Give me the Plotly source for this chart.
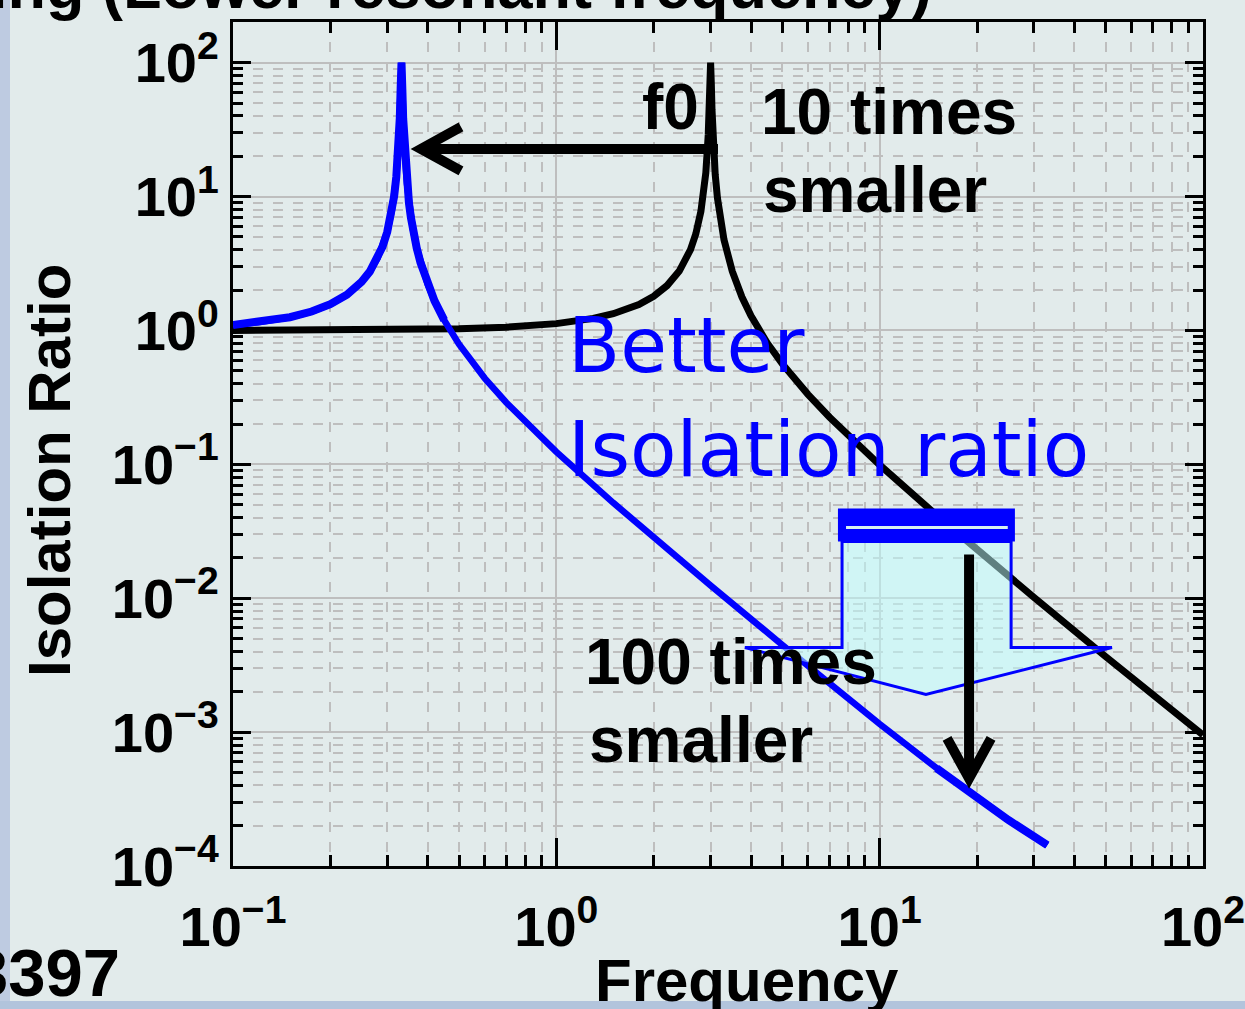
import plotly.graph_objects as go

# Transmissibility of the stiff mount (natural frequency near 3 Hz)
freq_stiff = [0.1, 0.3, 0.5, 0.7, 1.0, 1.3, 1.5, 1.8, 2.0, 2.2, 2.4, 2.6, 2.7, 2.8, 2.85,
              2.9, 2.95, 2.97, 2.985, 3.0, 3.015, 3.03, 3.05, 3.1, 3.15, 3.2, 3.3, 3.5,
              3.75, 4.0, 4.5, 5.0, 6.0, 7.0, 8.5, 10, 15, 20, 30, 50, 70, 100]
ratio_stiff = [1.001, 1.010, 1.029, 1.058, 1.125, 1.231, 1.333, 1.5625, 1.800, 2.163, 2.778,
               4.018, 5.263, 7.758, 10.26, 15.09, 29.0, 45.0, 71.0, 100, 70.4, 44.5, 28.5,
               14.6, 9.76, 7.26, 4.76, 2.77, 1.778, 1.286, 0.800, 0.5625, 0.3333, 0.2250,
               0.1423, 0.0990, 0.04168, 0.02307, 0.01015, 0.003663, 0.001890, 0.000950]

# Transmissibility of the soft mount (natural frequency about ten times lower)
freq_soft = [0.1, 0.12, 0.15, 0.175, 0.2, 0.225, 0.25, 0.265, 0.28, 0.29, 0.3, 0.31, 0.315,
             0.32, 0.325, 0.328, 0.33, 0.332, 0.334, 0.336, 0.34, 0.345, 0.35, 0.355, 0.36,
             0.37, 0.38, 0.4, 0.42, 0.45, 0.5, 0.55, 0.6, 0.7, 0.8, 1.0, 1.5, 2, 3, 5, 7,
             10, 15, 20, 25, 33]
ratio_soft = [1.100, 1.150, 1.256, 1.385, 1.570, 1.849, 2.31, 2.756, 3.46, 4.219, 5.45, 7.80,
              10.02, 14.1, 23.3, 38.6, 64.2, 100, 63.6, 38.1, 20.1, 12.5, 8.98, 6.97, 5.69,
              4.13, 3.22, 2.21, 1.666, 1.194, 0.789, 0.573, 0.441, 0.290, 0.208, 0.1239,
              0.0516, 0.0284, 0.01245, 0.00448, 0.00230, 0.00115, 0.000538, 0.000322,
              0.000221, 0.000143]

x_tick_vals = [0.1, 1, 10, 100]
x_tick_text = ["10<sup>\u22121</sup>", "10<sup>0</sup>", "10<sup>1</sup>", "10<sup>2</sup>"]
y_tick_vals = [1e-4, 1e-3, 1e-2, 1e-1, 1, 10, 100]
y_tick_text = ["10<sup>\u22124</sup>", "10<sup>\u22123</sup>", "10<sup>\u22122</sup>",
               "10<sup>\u22121</sup>", "10<sup>0</sup>", "10<sup>1</sup>", "10<sup>2</sup>"]

W, H = 1245, 1009
ML, MR, MT, MB = 233, 42, 22, 143
PW, PH = W - ML - MR, H - MT - MB

BG = "#e2ebeb"
BLUE = "#0000ff"
GRID = "rgb(190,190,190)"
SANS = "Liberation Sans, Arial, sans-serif"

# the soft-mount curve is drawn heavier around its resonance and at its far end
n_soft_heavy = 30
n_soft_tail = 4


def xp(px):
    """Horizontal page pixel -> paper fraction."""
    return (px - ML) / PW


def yp(py):
    """Vertical page pixel -> paper fraction."""
    return (MT + PH - py) / PH


fig = go.Figure()
fig.add_trace(go.Scatter(x=freq_stiff, y=ratio_stiff, mode="lines",
                         line=dict(color="black", width=7), hoverinfo="skip"))
fig.add_trace(go.Scatter(x=freq_soft, y=ratio_soft, mode="lines",
                         line=dict(color=BLUE, width=6.5), hoverinfo="skip"))
fig.add_trace(go.Scatter(x=freq_soft[:n_soft_heavy], y=ratio_soft[:n_soft_heavy],
                         mode="lines", line=dict(color=BLUE, width=8), hoverinfo="skip"))
fig.add_trace(go.Scatter(x=freq_soft[-n_soft_tail:], y=ratio_soft[-n_soft_tail:],
                         mode="lines", line=dict(color=BLUE, width=8), hoverinfo="skip"))

axis_common = dict(
    type="log", showline=True, linewidth=3, linecolor="black", mirror="allticks",
    ticks="inside", tickwidth=3, tickcolor="black", automargin=False,
    showgrid=True, gridcolor=GRID, gridwidth=1.5, zeroline=False,
    ticklabeloverflow="allow",
    tickfont=dict(family=SANS, size=56, color="black", weight="bold"),
)
fig.update_xaxes(**axis_common, range=[-1, 2], tickmode="array",
                 tickvals=x_tick_vals, ticktext=x_tick_text, ticklen=28,
                 ticklabelstandoff=10,
                 minor=dict(dtick="D1", ticks="inside", ticklen=11, tickwidth=2.5,
                            tickcolor="black", showgrid=True, gridcolor=GRID,
                            gridwidth=1.5, griddash="10px,10px"))
fig.update_yaxes(**axis_common, range=[-4, 2.304], tickmode="array",
                 tickvals=y_tick_vals, ticktext=y_tick_text, ticklen=18,
                 minor=dict(dtick="D1", ticks="inside", ticklen=10, tickwidth=2.5,
                            tickcolor="black", showgrid=True, gridcolor=GRID,
                            gridwidth=1.5, griddash="10px,10px"))

shapes = [
    # window edge strips
    dict(type="rect", xref="paper", yref="paper", x0=xp(0), x1=xp(10), y0=yp(H), y1=yp(0),
         fillcolor="rgb(190,203,225)", line=dict(width=0), layer="above"),
    dict(type="rect", xref="paper", yref="paper", x0=xp(0), x1=xp(W), y0=yp(H), y1=yp(1001),
         fillcolor="rgb(178,196,220)", line=dict(width=0), layer="above"),
    # hollow block arrow pointing down
    dict(type="path", xref="x", yref="y", layer="above",
         path="M 7.65,0.02649 L 7.65,0.004286 L 3.83,0.004286 L 13.9,0.001911 "
              "L 52.3,0.004286 L 25.5,0.004286 L 25.5,0.02649 Z",
         fillcolor="rgba(190,255,255,0.5)", line=dict(color=BLUE, width=3)),
    dict(type="rect", xref="x", yref="y", layer="above", x0=7.43, x1=26.2,
         y0=0.02649, y1=0.0467, fillcolor=BLUE, line=dict(width=0)),
    dict(type="line", xref="x", yref="y", layer="above", x0=7.87, x1=24.9,
         y0=0.0337, y1=0.0337, line=dict(color="rgb(215,240,240)", width=3)),
    # f0 shift arrow (stiff resonance -> soft resonance)
    dict(type="path", xref="x", yref="y", layer="above",
         xsizemode="pixel", ysizemode="pixel", xanchor=0.3814, yanchor=22.7,
         path="M 297,0 L 2,0 M 40,22 L 0,0 L 40,-22",
         line=dict(color="black", width=10)),
    # drop in isolation ratio at high frequency
    dict(type="path", xref="x", yref="y", layer="above",
         xsizemode="pixel", ysizemode="pixel", xanchor=18.9, yanchor=0.000451,
         path="M 0,224 L 0,2 M -22,40 L 0,0 L 22,40",
         line=dict(color="black", width=10)),
]

bold = dict(family=SANS, size=64, color="black", weight="bold")
blue_font = dict(family="DejaVu Sans, Verdana, sans-serif", size=76, color=BLUE)


def label(text, x, y, font, xanchor="left", angle=0):
    return dict(text=text, xref="paper", yref="paper", x=xp(x), y=yp(y),
                xanchor=xanchor, yanchor="middle", showarrow=False,
                font=font, textangle=angle)


annotations = [
    label("f0", 640, 107.5, bold),
    label("10 times", 759, 112.5, bold),
    label("smaller", 761, 190, bold),
    label("100 times", 583, 662, bold),
    label("smaller", 587, 740, bold),
    label("Better", 566, 345, blue_font),
    label("Isolation ratio", 566, 449, blue_font),
    label("Isolation Ratio", 49, 471, dict(family=SANS, size=60, color="black", weight="bold"),
          xanchor="center", angle=-90),
    label("Frequency", 747, 980, dict(family=SANS, size=60, color="black", weight="bold"),
          xanchor="center"),
    label("3397", 122, 972, dict(family=SANS, size=67, color="black", weight="bold"),
          xanchor="right"),
    label("ing (Lower resonant frequency)", 934, -14,
          dict(family=SANS, size=63, color="black", weight="bold"), xanchor="right"),
]

fig.update_layout(
    width=W, height=H, margin=dict(l=ML, r=MR, t=MT, b=MB, autoexpand=False),
    paper_bgcolor=BG, plot_bgcolor=BG, showlegend=False,
    shapes=shapes, annotations=annotations,
)

fig.write_html("out.html")
